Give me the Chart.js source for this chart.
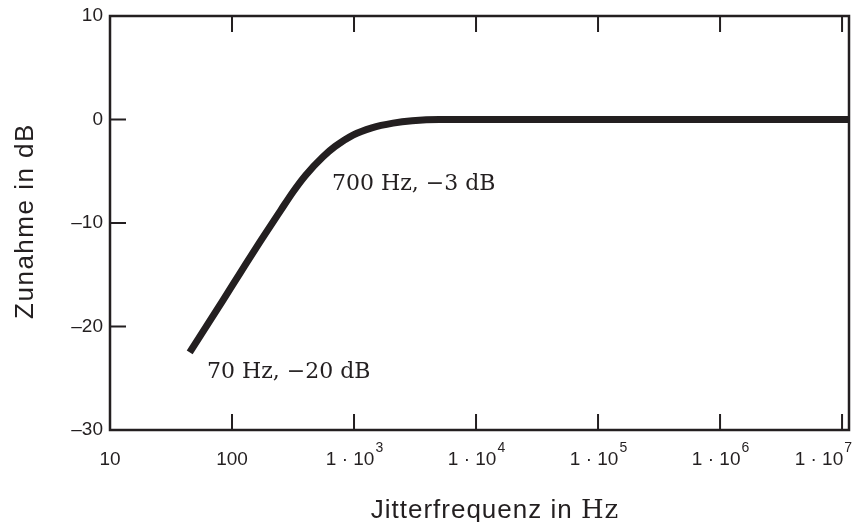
<!DOCTYPE html>
<html>
<head>
<meta charset="utf-8">
<script src="https://cdn.jsdelivr.net/npm/chart.js@4.4.1/dist/chart.umd.min.js"></script>
<style>
  html, body { margin: 0; padding: 0; background: #fff; }
  #wrap { width: 860px; height: 522px; }
</style>
</head>
<body>
<div id="wrap"><canvas id="chart" width="860" height="522"></canvas></div>
<script>
// Frequenzgang (Jitterfrequenz -> Zunahme)
const frequencies = [45, 84, 120, 170, 250, 316, 400, 557, 700, 980, 1400, 2090, 3000, 5000, 1e4, 1e5, 1e6, 1.14e7];
const gainDb = [-22.5, -17.5, -14.6, -11.8, -8.8, -7.0, -5.4, -3.6, -2.6, -1.5, -0.8, -0.35, -0.12, 0, 0, 0, 0, 0];

const xTickValues = [10, 100, 1e3, 1e4, 1e5, 1e6, 1e7];
const xTickLabels = ['10', '100', '1 · 10', '1 · 10', '1 · 10', '1 · 10', '1 · 10'];
const xTickExponents = ['', '', '3', '4', '5', '6', '7'];

const yTickValues = [10, 0, -10, -20, -30];
const yTickLabels = ['10', '0', '–10', '–20', '–30'];

const notes = [
  { text: '700 Hz, −3 dB', x: 332, y: 190 },
  { text: '70 Hz, −20 dB', x: 207, y: 378 }
];

const INK = '#231f20';
const SANS = '"Liberation Sans", Arial, sans-serif';
const SERIF = '"DejaVu Serif", "Liberation Serif", serif';

const paperPlugin = {
  id: 'paper',
  afterDatasetsDraw(chart) {
    const { ctx, chartArea: a, scales } = chart;
    const xs = scales.x, ys = scales.y;
    ctx.save();

    // Rahmen
    ctx.strokeStyle = INK;
    ctx.lineWidth = 2.5;
    ctx.strokeRect(a.left, a.top, a.right - a.left, a.bottom - a.top);

    // Innenliegende Striche
    ctx.lineWidth = 2;
    ctx.beginPath();
    xTickValues.forEach(v => {
      const px = xs.getPixelForValue(v);
      if (px <= a.left + 2) return;
      ctx.moveTo(px, a.bottom); ctx.lineTo(px, a.bottom - 16);
      ctx.moveTo(px, a.top); ctx.lineTo(px, a.top + 16);
    });
    yTickValues.forEach(v => {
      const py = ys.getPixelForValue(v);
      if (py <= a.top + 2 || py >= a.bottom - 2) return;
      ctx.moveTo(a.left, py); ctx.lineTo(a.left + 16, py);
    });
    ctx.stroke();

    // y-Beschriftung
    ctx.fillStyle = INK;
    ctx.font = '19px ' + SANS;
    ctx.textAlign = 'right';
    ctx.textBaseline = 'middle';
    yTickValues.forEach((v, i) => {
      ctx.fillText(yTickLabels[i], a.left - 7, ys.getPixelForValue(v));
    });

    // x-Beschriftung mit Exponent
    ctx.textBaseline = 'alphabetic';
    ctx.textAlign = 'left';
    xTickValues.forEach((v, i) => {
      const px = xs.getPixelForValue(v);
      ctx.font = '19px ' + SANS;
      const w1 = ctx.measureText(xTickLabels[i]).width;
      ctx.font = '14px ' + SANS;
      const w2 = xTickExponents[i] ? ctx.measureText(xTickExponents[i]).width : 0;
      let left = px - (w1 + w2) / 2;
      if (left + w1 + w2 > a.right + 2) left = a.right + 2 - w1 - w2;
      ctx.font = '19px ' + SANS;
      ctx.fillText(xTickLabels[i], left, a.bottom + 35);
      if (w2) {
        ctx.font = '14px ' + SANS;
        ctx.fillText(xTickExponents[i], left + w1 + 1, a.bottom + 22);
      }
    });

    // Anmerkungen
    ctx.font = '22px ' + SERIF;
    notes.forEach(n => ctx.fillText(n.text, n.x, n.y));

    // x-Achsentitel: sans + serif "Hz"
    ctx.letterSpacing = '1px';
    ctx.font = '26px ' + SANS;
    const t1 = 'Jitterfrequenz in ';
    const tw1 = ctx.measureText(t1).width;
    ctx.font = '26px ' + SERIF;
    const tw2 = ctx.measureText('Hz').width;
    const tx = 495 - (tw1 + tw2) / 2;
    ctx.font = '26px ' + SANS;
    ctx.fillText(t1, tx, 518);
    ctx.font = '26px ' + SERIF;
    ctx.fillText('Hz', tx + tw1, 518);

    // y-Achsentitel
    ctx.letterSpacing = '1.5px';
    ctx.translate(33, 221);
    ctx.rotate(-Math.PI / 2);
    ctx.textAlign = 'center';
    ctx.font = '26px ' + SANS;
    ctx.fillText('Zunahme in dB', 0, 0);

    ctx.restore();
  }
};

const chart = new Chart(document.getElementById('chart').getContext('2d'), {
  type: 'line',
  data: {
    datasets: [{
      data: frequencies.map((f, i) => ({ x: f, y: gainDb[i] })),
      borderColor: INK,
      borderWidth: 7,
      pointRadius: 0,
      cubicInterpolationMode: 'monotone',
      borderCapStyle: 'butt',
      fill: false
    }]
  },
  options: {
    responsive: false,
    animation: false,
    layout: { padding: { left: 110, right: 11, top: 16, bottom: 92 } },
    plugins: { legend: { display: false }, tooltip: { enabled: false } },
    scales: {
      x: { type: 'logarithmic', min: 10, max: 1.14e7, display: false },
      y: { type: 'linear', min: -30, max: 10, display: false }
    }
  },
  plugins: [paperPlugin]
});
</script>
</body>
</html>
